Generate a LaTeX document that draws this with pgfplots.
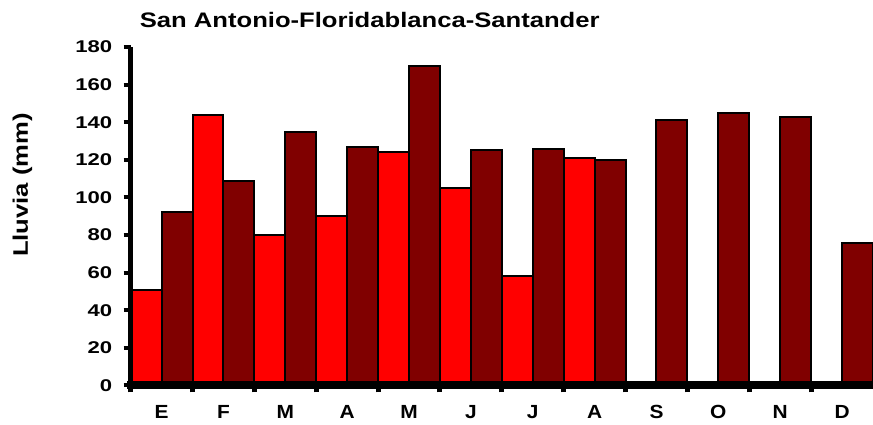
\documentclass[border=0pt]{standalone}
\usepackage{fontspec}
\setmainfont{Liberation Sans}
\newfontfamily\fA{Liberation Sans}[FakeStretch=1.22]
\newfontfamily\fY{Liberation Sans}[FakeStretch=1.3]
\newfontfamily\fX{Liberation Sans}[FakeStretch=1.1]
\usepackage{pgfplots}
\pgfplotsset{compat=1.18}
\definecolor{rojo}{RGB}{255,0,0}
\definecolor{vino}{RGB}{128,0,0}

\begin{document}
\begin{tikzpicture}
\useasboundingbox (-130.7pt,-39.5pt) rectangle (742.3pt,385.5pt);
\begin{axis}[
  scale only axis, width=742.3pt, height=338.5pt,
  xmin=-0.5, xmax=11.5, ymin=0, ymax=180,
  ybar=0pt, bar width=0.5,
  axis lines*=left, axis on top,
  x axis line style={line width=8pt, line cap=rect},
  y axis line style={line width=5pt},
  tick align=outside, major tick length=7pt,
  xtick={-0.5,0.5,...,10.5},
  xticklabels={E,F,M,A,M,J,J,A,S,O,N,D},
  ytick={0,20,...,180},
  xtick style={black, line width=5pt},
  ytick style={black, line width=4pt},
  /pgf/number format/assume math mode=true,
  yticklabel style={font=\fY\bfseries\fontsize{17}{17}\selectfont, xshift=-8pt},
  xticklabel style={font=\fX\bfseries\fontsize{19}{19}\selectfont,
    xshift=30.93pt, yshift=-9pt},
  every axis title/.style={at={(0.322,1)}, anchor=base, yshift=19pt,
    font=\fA\bfseries\fontsize{21}{21}\selectfont},
  title={San Antonio-Floridablanca-Santander},
  every axis y label/.style={at={([xshift=-108.2pt]rel axis cs:0,0.592)},
    rotate=90, anchor=center, font=\fA\bfseries\fontsize{21}{21}\selectfont},
  ylabel={Lluvia (mm)},
]
\addplot[fill=rojo, draw=black, line width=2pt] coordinates {
  (0,51) (1,144) (2,80) (3,90) (4,124) (5,105) (6,58) (7,121)
  (8,0) (9,0) (10,0) (11,0)};
\addplot[fill=vino, draw=black, line width=2pt] coordinates {
  (0,92) (1,109) (2,135) (3,127) (4,170) (5,125) (6,126) (7,120)
  (8,141) (9,145) (10,143) (11,76)};
\end{axis}
\end{tikzpicture}
\end{document}
